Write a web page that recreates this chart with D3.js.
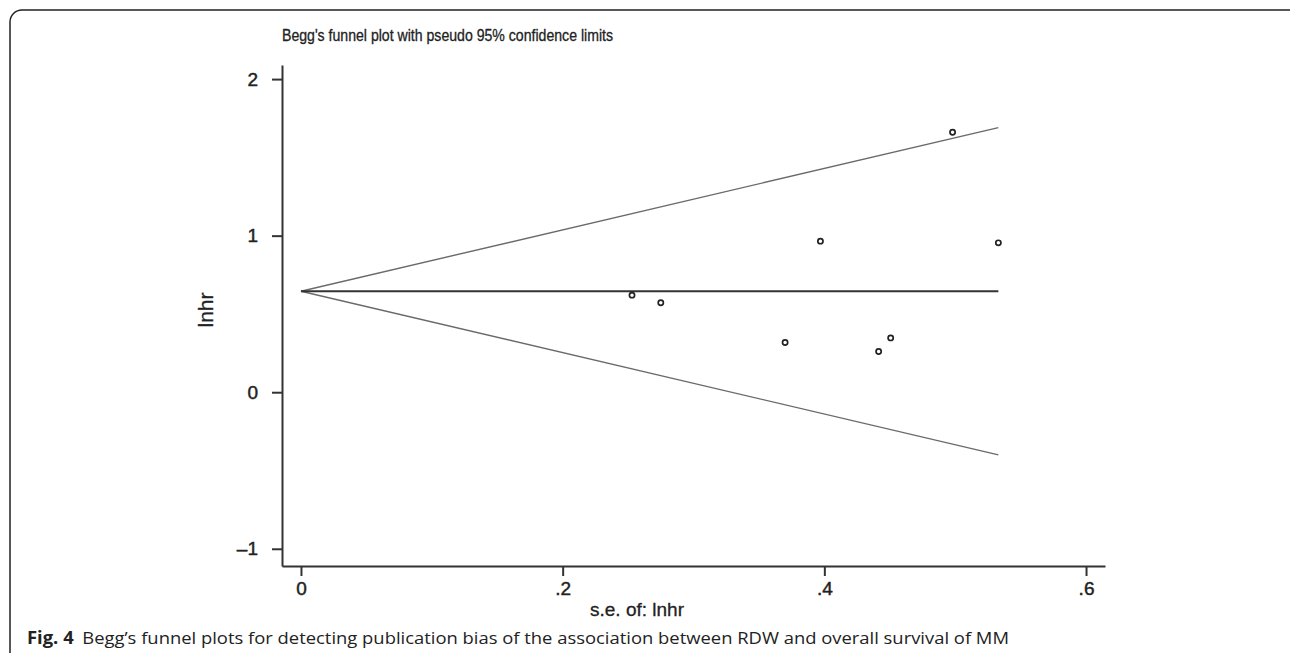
<!DOCTYPE html>
<html lang="en">
<head>
    <meta charset="UTF-8">
    <title>Begg's funnel plot</title>
    <script src="https://d3js.org/d3.v7.min.js"></script>
    <style>
        body { margin: 0; background: #fff; }
        svg { display: block; }
        .axis path, .axis line {
            stroke: #333;
            stroke-width: 2px;
        }
        .axis text {
            font: 19px "Liberation Sans", Arial, sans-serif;
            fill: #222;
            stroke: #222;
            stroke-width: 0.45px;
        }
        .label {
            font-family: "Liberation Sans", Arial, sans-serif;
            fill: #222;
            stroke: #222;
            stroke-width: 0.3px;
        }
        .limit {
            fill: none;
            stroke: #6a6a6a;
            stroke-width: 1.4px;
        }
        .pooled {
            fill: none;
            stroke: #333;
            stroke-width: 2px;
        }
        .dot {
            fill: #fff;
            stroke: #222;
            stroke-width: 1.7px;
        }
    </style>
</head>
<body>
    <script>
        // studies
        var se = [0.253, 0.275, 0.370, 0.397, 0.4415, 0.4507, 0.498, 0.533];
        var lnhr = [0.62, 0.571, 0.318, 0.965, 0.26, 0.347, 1.66, 0.954];

        // pooled estimate and pseudo 95% limits (ends of the lines)
        var limitSe = [0, 0.533];
        var pooled = [0.645, 0.645];
        var upper = [0.645, 1.69];
        var lower = [0.645, -0.40];

        var xTicks = [0, 0.2, 0.4, 0.6];
        var yTicks = [-1, 0, 1, 2];

        var width = 1290,
            height = 653;

        var svg = d3.select("body").append("svg")
            .attr("width", width)
            .attr("height", height);

        // outer frame, runs off the right and bottom of the picture
        svg.append("rect")
            .attr("x", 10).attr("y", 10)
            .attr("width", 1300).attr("height", 700)
            .attr("rx", 12)
            .attr("fill", "none")
            .attr("stroke", "#222")
            .attr("stroke-width", 1.5);

        var x = d3.scaleLinear()
            .domain([-0.0145, 0.6145])
            .range([282, 1105]);

        var y = d3.scaleLinear()
            .domain([-1.11, 2.09])
            .range([566, 65]);

        var fmt = d => d === 0 ? "0" : String(d).replace("0.", ".");

        svg.append("g")
            .attr("class", "axis")
            .attr("transform", "translate(0,566)")
            .call(d3.axisBottom(x).tickValues(xTicks).tickSize(10).tickSizeOuter(0).tickPadding(6).tickFormat(fmt));

        svg.append("g")
            .attr("class", "axis")
            .attr("transform", "translate(282,0)")
            .call(d3.axisLeft(y).tickValues(yTicks).tickSize(10).tickSizeOuter(0).tickPadding(14).tickFormat(d => d < 0 ? "\u2013" + Math.abs(d) : d));

        var line = d3.line()
            .x(d => x(d[0]))
            .y(d => y(d[1]));

        svg.append("path").attr("class", "limit").attr("d", line(d3.zip(limitSe, upper)));
        svg.append("path").attr("class", "limit").attr("d", line(d3.zip(limitSe, lower)));
        svg.append("path").attr("class", "pooled").attr("d", line(d3.zip(limitSe, pooled)));

        svg.selectAll(".dot")
            .data(d3.zip(se, lnhr))
            .enter().append("circle")
            .attr("class", "dot")
            .attr("cx", d => x(d[0]))
            .attr("cy", d => y(d[1]))
            .attr("r", 2.6);

        // title and axis titles
        svg.append("text")
            .attr("class", "label")
            .attr("x", 282).attr("y", 41)
            .attr("textLength", 331)
            .attr("lengthAdjust", "spacingAndGlyphs")
            .style("font-size", "16.5px")
            .text("Begg's funnel plot with pseudo 95% confidence limits");

        svg.append("text")
            .attr("class", "label")
            .attr("transform", "translate(213,310) rotate(-90)")
            .attr("text-anchor", "middle")
            .style("font-size", "21px")
            .text("lnhr");

        svg.append("text")
            .attr("class", "label")
            .attr("x", 637).attr("y", 616)
            .attr("text-anchor", "middle")
            .style("font-size", "19px")
            .text("s.e. of: lnhr");

        // figure caption
        var cap = svg.append("text")
            .attr("x", 27).attr("y", 644)
            .attr("textLength", 982)
            .attr("lengthAdjust", "spacingAndGlyphs")
            .style("font", "17px 'Open Sans', sans-serif")
            .style("fill", "#222");
        cap.append("tspan").style("font-weight", "bold").text("Fig. 4");
        cap.append("tspan").attr("dx", 8).text("Begg\u2019s funnel plots for detecting publication bias of the association between RDW and overall survival of MM");
    </script>
</body>
</html>
